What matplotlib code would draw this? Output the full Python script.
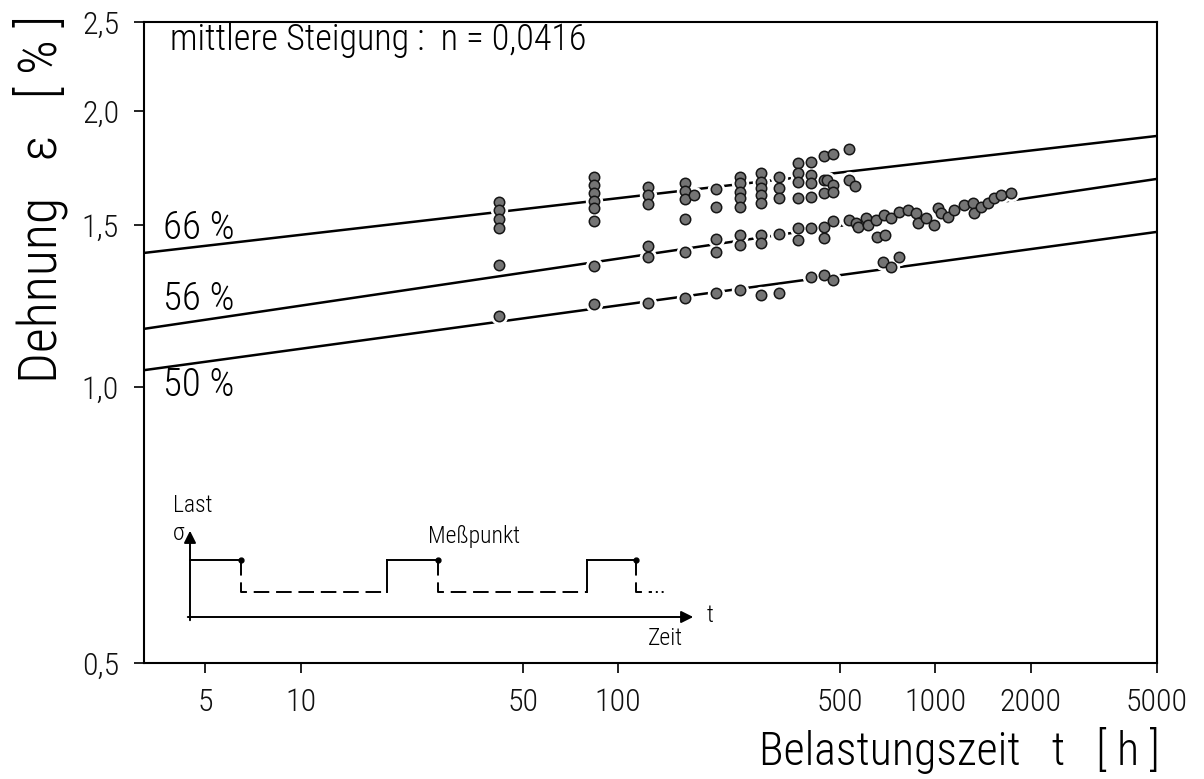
import matplotlib
matplotlib.use('Agg')
import matplotlib.pyplot as plt
from matplotlib.ticker import FixedLocator, FixedFormatter, NullLocator

plt.rcParams['font.family'] = ['Roboto Condensed', 'DejaVu Sans']
plt.rcParams['font.weight'] = 'light'

# straight fit lines (log-log), end values read at the plot edges
line_t = [3.2, 5000]
line66 = [1.400, 1.878]
line56 = [1.157, 1.686]
line50 = [1.043, 1.476]

# measured points, 66 % load
t66 = [42, 42, 42, 42, 84, 84, 84, 84, 84, 84, 124, 124, 124, 163, 163, 163, 163, 173,
       203, 203, 242, 242, 242, 242, 242, 282, 282, 282, 282, 282, 321, 321, 321,
       369, 369, 369, 369, 405, 405, 405, 405, 445, 445, 445, 455, 475, 475, 475, 534, 534, 560]
e66 = [1.591, 1.560, 1.525, 1.491, 1.694, 1.661, 1.627, 1.595, 1.567, 1.517, 1.652, 1.619, 1.583,
       1.669, 1.636, 1.603, 1.525, 1.619, 1.644, 1.572, 1.694, 1.669, 1.632, 1.607, 1.572,
       1.711, 1.673, 1.648, 1.619, 1.587, 1.694, 1.648, 1.607, 1.755, 1.711, 1.673, 1.607,
       1.759, 1.702, 1.669, 1.611, 1.786, 1.682, 1.627, 1.682, 1.795, 1.661, 1.632, 1.817, 1.682, 1.655]

# 56 % load
t56 = [42, 84, 124, 124, 163, 203, 203, 242, 242, 282, 282, 321, 369, 369, 405, 445, 445, 475,
       534, 562, 570, 604, 613, 649, 653, 688, 696, 724, 768, 819, 869, 881, 934, 990, 1019,
       1041, 1096, 1145, 1231, 1314, 1323, 1392, 1465, 1530, 1610, 1732]
e56 = [1.358, 1.355, 1.425, 1.386, 1.403, 1.450, 1.403, 1.465, 1.428, 1.465, 1.436, 1.469,
       1.491, 1.446, 1.491, 1.494, 1.453, 1.517, 1.521, 1.510, 1.494, 1.529, 1.502, 1.521,
       1.457, 1.540, 1.465, 1.529, 1.552, 1.560, 1.548, 1.510, 1.529, 1.502, 1.567, 1.548,
       1.532, 1.560, 1.579, 1.587, 1.548, 1.572, 1.587, 1.607, 1.619, 1.627]

# 50 % load
t50 = [42, 84, 124, 163, 203, 242, 282, 321, 405, 445, 475, 683, 724, 768]
e50 = [1.195, 1.232, 1.235, 1.250, 1.266, 1.276, 1.260, 1.266, 1.318, 1.325, 1.308, 1.369, 1.351, 1.386]

xticks = [5, 10, 50, 100, 500, 1000, 2000, 5000]
xticklabels = ['5', '10', '50', '100', '500', '1000', '2000', '5000']
yticks = [0.5, 1.0, 1.5, 2.0, 2.5]
yticklabels = ['0,5', '1,0', '1,5', '2,0', '2,5']

fig = plt.figure(figsize=(12.04, 7.79), dpi=100)
ax = fig.add_axes([144/1204, 1-663/779, 1013/1204, 641/779])
ax.set_xscale('log')
ax.set_yscale('log')
ax.set_xlim(3.2, 5000)
ax.set_ylim(0.5, 2.5)

for vals in (line66, line56, line50):
    ax.plot(line_t, vals, color='black', lw=1.8, zorder=2)

for t, e in ((t66, e66), (t56, e56), (t50, e50)):
    ax.plot(t, e, 'o', ms=11.5, color='white', zorder=3)
    ax.plot(t, e, 'o', ms=7.5, mfc='#747474', mec='#151515', mew=1.1, zorder=4)

ax.xaxis.set_major_locator(FixedLocator(xticks))
ax.xaxis.set_major_formatter(FixedFormatter(xticklabels))
ax.yaxis.set_major_locator(FixedLocator(yticks))
ax.yaxis.set_major_formatter(FixedFormatter(yticklabels))
ax.xaxis.set_minor_locator(NullLocator())
ax.yaxis.set_minor_locator(NullLocator())
ax.tick_params(direction='out', length=7, width=1.3, labelsize=23, pad=11, colors='#111')
for s in ax.spines.values():
    s.set_linewidth(1.5)

ax.text((170-144)/1013, 1-18/641, 'mittlere Steigung :  n = 0,0416', transform=ax.transAxes,
        fontsize=26, va='center', ha='left')
pct = [('66 %', 228), ('56 %', 299), ('50 %', 385)]
for lab, py in pct:
    ax.text((163-144)/1013, 1-(py-22)/641, lab, transform=ax.transAxes,
            fontsize=28, va='center', ha='left')

fig.text(40/1204, 1-199/779, 'Dehnung   ε   [ % ]', rotation=90, fontsize=39,
         ha='center', va='center')
fig.text(1160/1204, 1-750/779, 'Belastungszeit   t   [ h ]', fontsize=33,
         ha='right', va='center')

# load schematic
ins = fig.add_axes([160/1204, 1-640/779, 560/1204, 120/779])
ins.set_xlim(0, 560)
ins.set_ylim(0, 120)
ins.axis('off')
high = 80
low = 48
plateaus = [(30, 81), (227, 278), (427, 476)]
lows = [(81, 227), (278, 427), (476, 490)]
for a, b in plateaus:
    ins.plot([a, b], [high, high], color='black', lw=1.4)
for a, b in lows:
    ins.plot([a, a, b], [high, low, low], color='black', lw=1.4, ls=(0, (8, 3.5)))
for a, b in plateaus[1:]:
    ins.plot([a, a], [low, high], color='black', lw=1.4)
ins.plot([490, 507], [low, low], color='black', lw=1.4, ls=(0, (1, 2)))
ins.plot([b for a, b in plateaus], [high] * 3, 'o', color='black', ms=3.5)
ins.annotate('', xy=(30, 112), xytext=(30, 17),
             arrowprops=dict(arrowstyle='-|>', color='black', lw=1.4, mutation_scale=18))
ins.annotate('', xy=(536, 23), xytext=(25, 23),
             arrowprops=dict(arrowstyle='-|>', color='black', lw=1.4, mutation_scale=18))
ins.text(13, 135, 'Last', fontsize=17, ha='left', va='center')
ins.text(24, 106, 'σ', fontsize=17, ha='right', va='center')
ins.text(268, 104, 'Meßpunkt', fontsize=17, ha='left', va='center')
ins.text(547, 25, 't', fontsize=17, ha='left', va='center')
ins.text(505, 13, 'Zeit', fontsize=17, ha='center', va='top')

fig.savefig('out.png', dpi=100)
